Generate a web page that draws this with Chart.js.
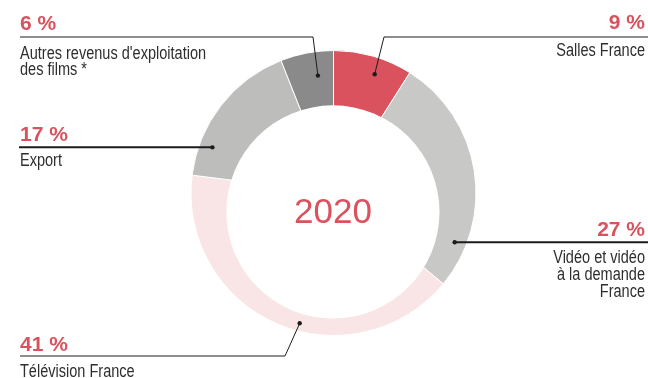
<!DOCTYPE html>
<html>
<head>
<meta charset="utf-8">
<script src="https://cdn.jsdelivr.net/npm/chart.js@4.4.0/dist/chart.umd.min.js"></script>
<style>
    html, body { margin: 0; padding: 0; background: #fff; }
    #wrap { width: 648px; height: 378px; position: relative; }
</style>
</head>
<body>
<div id="wrap"><canvas id="myChart"></canvas></div>
<script>
// data, clockwise from 12 o'clock
const categories = ['Salles France', 'Vidéo et vidéo à la demande France', 'Télévision France', 'Export', "Autres revenus d'exploitation des films *"];
const shares = [9, 27, 41, 17, 6];
const labelLines = [
    ['Salles France'],
    ['Vidéo et vidéo', 'à la demande', 'France'],
    ['Télévision France'],
    ['Export'],
    ["Autres revenus d'exploitation", 'des films *']
];
const yearLabel = '2020';

const red = '#d9525e';
const sliceColors = ['#d9525e', '#c8c8c6', '#f9e5e5', '#bdbdbc', '#8a8a8a'];

// hole is shifted down compared with the outer circle
const holeShift = [-0.004, 0.133];
const holeRadius = 0.748;

// where each callout sits
const callouts = [
    { side: 'right', x: 645, pctY: 29, textY: [56], lineY: 37, edge: 648, elbowX: 384, frac: 0.59, rad: 0.69, lw: 1 },
    { side: 'right', x: 645, pctY: 236, textY: [263, 280, 297], lineY: null, edge: 648, elbowX: null, frac: 0.82, rad: 0.62, lw: 2 },
    { side: 'left', x: 20, pctY: 351, textY: [377], lineY: 356, edge: 20, elbowX: 285, frac: 0.44, rad: 0.55, lw: 1 },
    { side: 'left', x: 20, pctY: 141, textY: [166], lineY: null, edge: 19, elbowX: null, frac: 0.22, rad: 0.70, lw: 2 },
    { side: 'left', x: 20, pctY: 30, textY: [59, 75], lineY: 37, edge: 20, elbowX: 313, frac: 0.65, rad: 0.56, lw: 1 }
];

const ringPlugin = {
    id: 'ringPlugin',
    afterDatasetsDraw(chart) {
        const ctx = chart.ctx;
        const arcs = chart.getDatasetMeta(0).data;
        const R = arcs[0].outerRadius;
        const cx = arcs[0].x, cy = arcs[0].y;
        const hx = cx + holeShift[0] * R, hy = cy + holeShift[1] * R, hr = holeRadius * R;

        ctx.save();
        ctx.fillStyle = '#fff';
        ctx.beginPath();
        ctx.arc(hx, hy, hr, 0, Math.PI * 2);
        ctx.fill();

        ctx.fillStyle = red;
        ctx.font = '35px "Liberation Sans", Arial, sans-serif';
        ctx.textAlign = 'center';
        ctx.textBaseline = 'alphabetic';
        ctx.fillText(yearLabel, hx, hy + 11.5);

        arcs.forEach((arc, i) => {
            const c = callouts[i];
            const a = arc.startAngle + c.frac * (arc.endAngle - arc.startAngle);
            const ux = Math.cos(a), uy = Math.sin(a);
            const dx = cx - hx, dy = cy - hy;
            const b = dx * ux + dy * uy;
            const tIn = -b + Math.sqrt(b * b - (dx * dx + dy * dy) + hr * hr);
            const t = tIn + c.rad * (R - tIn);
            const px = cx + t * ux, py = cy + t * uy;

            ctx.strokeStyle = '#1c1c1c';
            ctx.lineWidth = c.lw;
            ctx.beginPath();
            if (c.elbowX !== null) {
                ctx.moveTo(c.edge, c.lineY);
                ctx.lineTo(c.elbowX, c.lineY);
                ctx.lineTo(px, py);
            } else {
                ctx.moveTo(c.edge, py);
                ctx.lineTo(px, py);
            }
            ctx.stroke();

            ctx.fillStyle = '#1c1c1c';
            ctx.beginPath();
            ctx.arc(px, py, 2.2, 0, Math.PI * 2);
            ctx.fill();

            ctx.textAlign = c.side === 'right' ? 'right' : 'left';
            ctx.fillStyle = red;
            ctx.font = 'bold 21px "Liberation Sans", Arial, sans-serif';
            ctx.fillText(shares[i] + ' %', c.x, c.pctY);

            ctx.fillStyle = '#2e2e2e';
            ctx.font = '17.5px "Liberation Sans", Arial, sans-serif';
            labelLines[i].forEach((line, k) => {
                ctx.save();
                ctx.translate(c.x, c.textY[k]);
                ctx.scale(0.83, 1);
                ctx.fillText(line, 0, 0);
                ctx.restore();
            });
        });
        ctx.restore();
    }
};

const chart = new Chart(document.getElementById('myChart'), {
    type: 'pie',
    data: {
        labels: categories,
        datasets: [{
            data: shares,
            backgroundColor: sliceColors,
            borderColor: '#ffffff',
            borderWidth: 1
        }]
    },
    options: {
        responsive: true,
        maintainAspectRatio: false,
        animation: false,
        events: [],
        layout: {
            padding: { left: 190.5, right: 171.5, top: 50, bottom: 42 }
        },
        plugins: {
            legend: { display: false },
            tooltip: { enabled: false }
        }
    },
    plugins: [ringPlugin]
});
</script>
</body>
</html>
